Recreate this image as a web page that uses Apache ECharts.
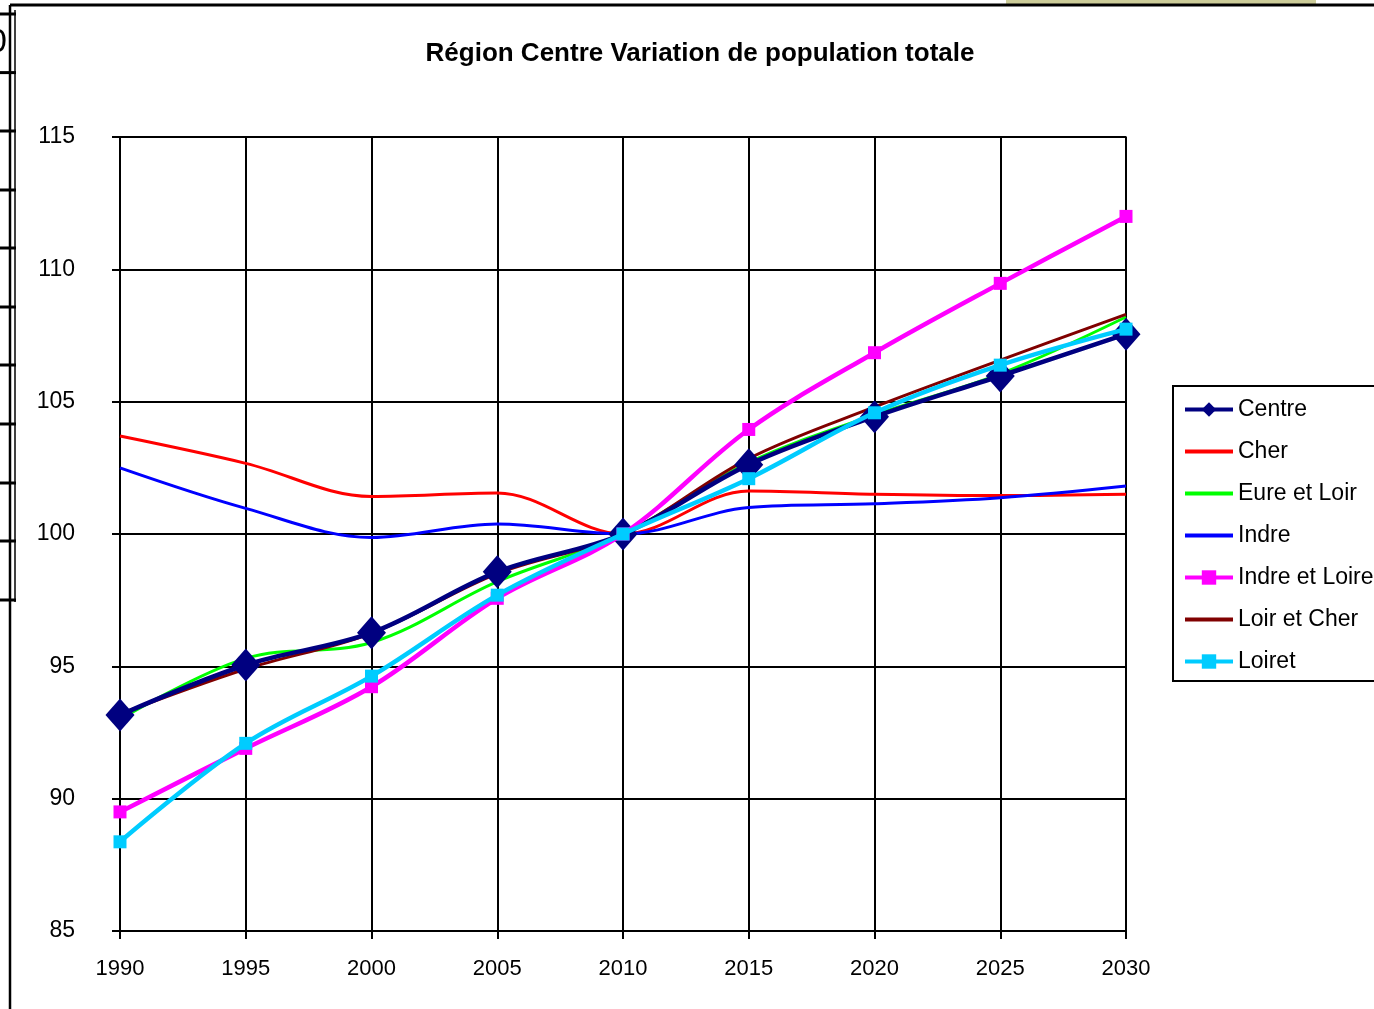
<!DOCTYPE html>
<html>
<head>
<meta charset="utf-8">
<title>Région Centre Variation de population totale</title>
<script src="https://cdn.jsdelivr.net/npm/echarts@6/dist/echarts.min.js"></script>
<style>
  html, body { margin: 0; padding: 0; background: #fff; }
  #chart { width: 1374px; height: 1009px; }
</style>
</head>
<body>
<div id="chart"></div>
<script>
// années (axe X) et indices de population (base 100 en 2010)
var years = ["1990", "1995", "2000", "2005", "2010", "2015", "2020", "2025", "2030"];
var centre       = [93.16, 95.05, 96.27, 98.57, 100, 102.62, 104.43, 105.97, 107.55];
var cher         = [103.7, 102.67, 101.42, 101.55, 100, 101.62, 101.5, 101.45, 101.5];
var eureEtLoir   = [93.0, 95.3, 95.9, 98.2, 100, 102.7, 104.5, 106.05, 108.2];
var indre        = [102.5, 100.97, 99.87, 100.38, 100, 101.0, 101.14, 101.37, 101.81];
var indreEtLoire = [89.5, 91.9, 94.23, 97.57, 100, 103.95, 106.85, 109.47, 112.0];
var loirEtCher   = [93.2, 94.9, 96.25, 98.5, 100, 102.85, 104.8, 106.57, 108.3];
var loiret       = [88.37, 92.09, 94.63, 97.69, 100, 102.09, 104.58, 106.38, 107.74];
var yTicks = { min: 85, max: 115, step: 5 };

var font = "'Liberation Sans', Arial, sans-serif";

function serie (name, data, color, width, symbol, size, z) {
  return {
    name: name,
    type: "line",
    data: data,
    smooth: 0.35,
    z: z,
    symbol: symbol,
    symbolSize: size,
    showSymbol: symbol !== "none",
    itemStyle: { color: color },
    lineStyle: { color: color, width: width },
    emphasis: { disabled: true },
    animation: false
  };
}

// légende : pas de marqueur pour les séries sans symbole
function legendItem (name, marker) {
  return marker ? { name: name } : { name: name, itemStyle: { opacity: 0 } };
}

// petits traits du cadre de la feuille (bord gauche)
var frame = [
  { type: "rect", shape: { x: 1006, y: 0, width: 310, height: 5 }, style: { fill: "#cccc99" } },
  { type: "line", shape: { x1: 10, y1: 5, x2: 1374, y2: 5 }, style: { stroke: "#000", lineWidth: 3 } },
  { type: "line", shape: { x1: 10, y1: 5, x2: 10, y2: 1009 }, style: { stroke: "#000", lineWidth: 2.5 } },
  { type: "line", shape: { x1: 15, y1: 10, x2: 15, y2: 602 }, style: { stroke: "#000", lineWidth: 1.5 } },
  { type: "text", x: -12, y: 26, style: { text: "0", font: "34px " + font, fill: "#000" } }
];
[14, 72.6, 131, 190, 248, 307, 365, 424, 483, 541, 600].forEach(function (y) {
  frame.push({ type: "line", shape: { x1: 0, y1: y, x2: 16, y2: y }, style: { stroke: "#000", lineWidth: 3 } });
});

var chart = echarts.init(document.getElementById("chart"), null, { renderer: "canvas" });
chart.setOption({
  backgroundColor: "#fff",
  animation: false,
  title: {
    text: "Région Centre Variation de population totale",
    left: 695,
    textAlign: "center",
    top: 36,
    textStyle: { fontFamily: font, fontSize: 26, fontWeight: "bold", color: "#000" }
  },
  grid: {
    left: 120, right: 248, top: 137, bottom: 78,
    show: true, borderColor: "#808080", borderWidth: 2, backgroundColor: "transparent"
  },
  legend: {
    orient: "vertical",
    left: 1173,
    top: 386,
    padding: [12, 40, 8, 10],
    itemWidth: 48,
    itemHeight: 18,
    itemGap: 19,
    borderColor: "#000",
    borderWidth: 2,
    backgroundColor: "#fff",
    lineStyle: { width: 4 },
    textStyle: { fontFamily: font, fontSize: 23, color: "#000" },
    data: [
      legendItem("Centre", true),
      legendItem("Cher", false),
      legendItem("Eure et Loir", false),
      legendItem("Indre", false),
      legendItem("Indre et Loire", true),
      legendItem("Loir et Cher", false),
      legendItem("Loiret", true)
    ]
  },
  xAxis: {
    type: "category",
    data: years,
    boundaryGap: false,
    axisLine: { lineStyle: { color: "#000", width: 2 } },
    axisTick: { show: true, length: 8, lineStyle: { color: "#000", width: 2 } },
    splitLine: { show: true, lineStyle: { color: "#000", width: 2 } },
    axisLabel: { margin: 27, fontFamily: font, fontSize: 22, color: "#000" }
  },
  yAxis: {
    type: "value",
    min: yTicks.min,
    max: yTicks.max,
    interval: yTicks.step,
    axisLine: { show: true, lineStyle: { color: "#000", width: 2 } },
    axisTick: { show: true, length: 8, lineStyle: { color: "#000", width: 2 } },
    splitLine: { show: true, lineStyle: { color: "#000", width: 2 } },
    axisLabel: { margin: 45, fontFamily: font, fontSize: 23, color: "#000" }
  },
  series: [
    serie("Centre", centre, "#000080", 4.5, "diamond", [29, 33], 3),
    serie("Cher", cher, "#ff0000", 3, "none", 0, 2),
    serie("Eure et Loir", eureEtLoir, "#00ff00", 3, "none", 0, 2),
    serie("Indre", indre, "#0000ff", 3, "none", 0, 2),
    serie("Indre et Loire", indreEtLoire, "#ff00ff", 4.5, "rect", 13, 4),
    serie("Loir et Cher", loirEtCher, "#800000", 3, "none", 0, 2),
    serie("Loiret", loiret, "#00ccff", 4.5, "rect", 13, 5)
  ],
  graphic: frame
});
</script>
</body>
</html>
